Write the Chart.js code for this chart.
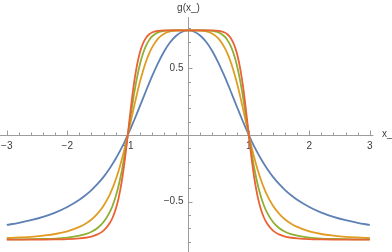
<!DOCTYPE html>
<html>
<head>
<meta charset="utf-8">
<script src="https://cdn.jsdelivr.net/npm/chart.js@4/dist/chart.umd.min.js"></script>
<style>
  html, body { margin: 0; padding: 0; background: #fff; }
</style>
</head>
<body>
<canvas id="chart" width="392" height="252"></canvas>
<script>
// curves are even in x: values read for x >= 0, mirrored for x < 0
const xValues = [0, 0.1, 0.2, 0.3, 0.4, 0.5, 0.6, 0.65, 0.7, 0.75, 0.8, 0.85, 0.9, 0.95, 1.0,
  1.05, 1.1, 1.15, 1.2, 1.25, 1.3, 1.4, 1.5, 1.6, 1.7, 1.8, 2.0, 2.2, 2.4, 2.6, 2.8, 3.0];

const blueValues = [0.785, 0.775, 0.745, 0.696, 0.627, 0.540, 0.440, 0.386, 0.330, 0.273, 0.216, 0.160, 0.105, 0.051, 0,
  -0.049, -0.095, -0.138, -0.178, -0.216, -0.251, -0.314, -0.367, -0.413, -0.452, -0.486, -0.540, -0.582, -0.614, -0.639, -0.659, -0.675];
const orangeValues = [0.785, 0.785, 0.784, 0.777, 0.760, 0.723, 0.656, 0.609, 0.550, 0.479, 0.397, 0.305, 0.205, 0.102, 0,
  -0.097, -0.186, -0.266, -0.336, -0.397, -0.449, -0.531, -0.590, -0.634, -0.666, -0.690, -0.723, -0.743, -0.755, -0.764, -0.769, -0.773];
const greenValues = [0.785, 0.785, 0.785, 0.785, 0.781, 0.770, 0.739, 0.710, 0.668, 0.609, 0.529, 0.425, 0.297, 0.152, 0,
  -0.144, -0.272, -0.377, -0.462, -0.529, -0.581, -0.653, -0.698, -0.726, -0.744, -0.756, -0.770, -0.777, -0.780, -0.782, -0.783, -0.784];
const redValues = [0.785, 0.785, 0.785, 0.785, 0.785, 0.781, 0.769, 0.754, 0.728, 0.686, 0.619, 0.519, 0.379, 0.200, 0,
  -0.190, -0.349, -0.470, -0.557, -0.619, -0.663, -0.718, -0.746, -0.762, -0.771, -0.776, -0.782, -0.784, -0.785, -0.785, -0.785, -0.785];

const xTickValues = [-3, -2, -1, 1, 2, 3];
const xTickLabels = ['\u22123', '\u22122', '\u22121', '1', '2', '3'];
const yTickValues = [-0.5, 0.5];
const yTickLabels = ['\u22120.5', '0.5'];
const xAxisName = 'x_';
const yAxisName = 'g(x_)';

function mirrored(vals) {
  const pts = [];
  for (let i = xValues.length - 1; i > 0; i--) pts.push({ x: -xValues[i], y: vals[i] });
  for (let i = 0; i < xValues.length; i++) pts.push({ x: xValues[i], y: vals[i] });
  return pts;
}

const axisColor = '#9c9c9c';
const textColor = '#3c3c3c';
const font = '10px "Liberation Sans", Arial, sans-serif';

const mmaAxes = {
  id: 'mmaAxes',
  beforeDatasetsDraw(chart) {
    const { ctx, scales: { x, y } } = chart;
    const x0 = Math.round(x.getPixelForValue(0)) + 0.5;
    const y0 = Math.round(y.getPixelForValue(0)) + 0.5;
    ctx.save();
    ctx.strokeStyle = axisColor;
    ctx.lineWidth = 1;
    ctx.beginPath();
    ctx.moveTo(x.left, y0);
    ctx.lineTo(x.getPixelForValue(3.06), y0);
    ctx.moveTo(x0, y.getPixelForValue(0.885));
    ctx.lineTo(x0, y.bottom);
    // x ticks: minor every 0.2, major at integers
    for (let k = -15; k <= 15; k++) {
      const px = Math.round(x.getPixelForValue(k * 0.2)) + 0.5;
      const len = k % 5 === 0 ? 5 : 3;
      ctx.moveTo(px, y0);
      ctx.lineTo(px, y0 - len);
    }
    // y ticks: minor every 0.1, major at 0.5
    for (let k = -8; k <= 8; k++) {
      if (k === 0) continue;
      const py = Math.round(y.getPixelForValue(k * 0.1)) + 0.5;
      const len = Math.abs(k) === 5 ? 4 : 2.5;
      ctx.moveTo(x0, py);
      ctx.lineTo(x0 + len, py);
    }
    ctx.stroke();

    ctx.fillStyle = textColor;
    ctx.font = font;
    ctx.textAlign = 'center';
    ctx.textBaseline = 'middle';
    xTickValues.forEach((v, i) => {
      ctx.fillText(xTickLabels[i], x.getPixelForValue(v), y0 + 10.5);
    });
    ctx.textAlign = 'right';
    yTickValues.forEach((v, i) => {
      ctx.fillText(yTickLabels[i], x0 - 5, y.getPixelForValue(v));
    });
    ctx.textAlign = 'center';
    ctx.fillText(yAxisName, x0, 8);
    ctx.textAlign = 'left';
    ctx.fillText(xAxisName, 382, y0 - 1);
    ctx.restore();
  }
};

function series(vals, color, order) {
  return {
    data: mirrored(vals),
    borderColor: color,
    borderWidth: 1.8,
    pointRadius: 0,
    fill: false,
    showLine: true,
    cubicInterpolationMode: 'monotone',
    order: order
  };
}

new Chart(document.getElementById('chart'), {
  type: 'scatter',
  data: {
    datasets: [
      series(blueValues, '#5E81B5', 3),
      series(orangeValues, '#E19C24', 2),
      series(greenValues, '#8FB032', 1),
      series(redValues, '#EB6235', 0)
    ]
  },
  options: {
    responsive: false,
    animation: false,
    devicePixelRatio: 1,
    layout: { padding: 0 },
    plugins: { legend: { display: false }, tooltip: { enabled: false } },
    scales: {
      x: { type: 'linear', display: false, min: -3.112, max: 3.367 },
      y: { type: 'linear', display: false, min: -0.878, max: 1.013 }
    }
  },
  plugins: [mmaAxes]
});
</script>
</body>
</html>
